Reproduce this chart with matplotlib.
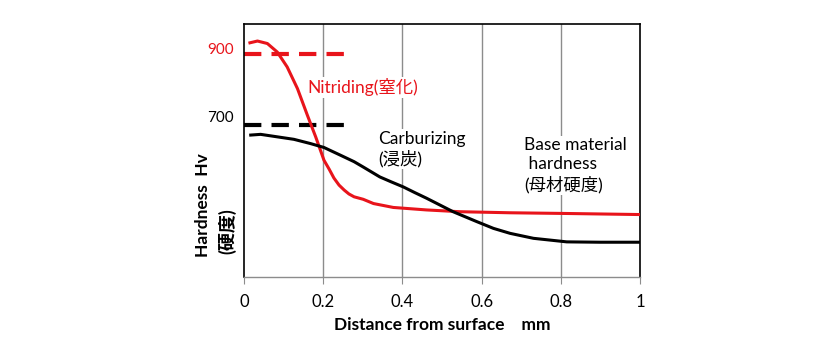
import matplotlib
matplotlib.use('Agg')
import matplotlib.pyplot as plt

plt.rcParams['font.family'] = ['Lato', 'Noto Sans CJK JP', 'DejaVu Sans']
plt.rcParams['lines.scale_dashes'] = False

# distance from surface (mm) and hardness (Hv)
nitriding_x = [0.015, 0.034, 0.059, 0.084, 0.109, 0.135, 0.160, 0.181, 0.202, 0.215,
               0.227, 0.240, 0.253, 0.265, 0.278, 0.301, 0.327, 0.377, 0.461, 0.545,
               0.672, 0.815, 1.0]
nitriding_hv = [932, 937, 930, 906, 864, 803, 728, 667, 601, 576,
                551, 531, 517, 506, 498, 491, 479, 468, 461, 456,
                453, 451, 448]

carburizing_x = [0.017, 0.042, 0.084, 0.126, 0.168, 0.202, 0.244, 0.278, 0.301, 0.322,
                 0.343, 0.372, 0.402, 0.431, 0.461, 0.528, 0.588, 0.630, 0.672, 0.731,
                 0.815, 0.899, 1.0]
carburizing_hv = [672, 674, 667, 660, 648, 637, 615, 597, 582, 568,
                  554, 540, 526, 510, 494, 456, 428, 409, 395, 381,
                  371, 370, 370]

nitriding_level = 900
carburizing_level = 700
level_x = [0, 0.255]

x_ticks = [0, 0.2, 0.4, 0.6, 0.8, 1]
x_tick_labels = ['0', '0.2', '0.4', '0.6', '0.8', '1']

red = '#e8141b'

fig = plt.figure(figsize=(8.38, 3.55), dpi=100)
ax = fig.add_axes([244 / 838, 1 - 277 / 355, 396 / 838, 253 / 355])

ax.set_xlim(0, 1)
ax.set_ylim(272, 985)

for gx in [0.2, 0.4, 0.6, 0.8]:
    ax.axvline(gx, color='#8c8c8c', linewidth=1, zorder=0.5)

ax.plot(level_x, [nitriding_level] * 2, color=red, linewidth=3, dashes=(12.5, 7.3),
        dash_capstyle='butt', zorder=2)
ax.plot(level_x, [carburizing_level] * 2, color='black', linewidth=3, dashes=(12.5, 7.3),
        dash_capstyle='butt', zorder=2)

ax.plot(nitriding_x, nitriding_hv, color=red, linewidth=2.2, zorder=3,
        solid_joinstyle='round')
ax.plot(carburizing_x, carburizing_hv, color='black', linewidth=2.2, zorder=3,
        solid_joinstyle='round')

ax.text(-0.025, 911, '900', color=red, fontsize=11, ha='right', va='center')
ax.text(-0.025, 720, '700', color='black', fontsize=11, ha='right', va='center')

box = dict(facecolor='white', edgecolor='none', pad=1)
ax.text(0.159, 807, 'Nitriding(窒化)', color=red, fontsize=12.5, ha='left', va='center',
        bbox=box, zorder=1.5)
ax.text(0.338, 632, 'Carburizing\n(浸炭)', color='black', fontsize=12.5, ha='left',
        va='center', linespacing=1.25, bbox=box, zorder=1.5)
ax.text(0.707, 587, 'Base material\n hardness\n(母材硬度)', color='black', fontsize=12.5,
        ha='left', va='center', linespacing=1.25, bbox=box, zorder=1.5)

ax.set_xticks(x_ticks)
ax.set_xticklabels(x_tick_labels, fontsize=12)
ax.set_yticks([])
ax.tick_params(axis='x', direction='out', length=5, color='#8c8c8c', pad=7)

for side in ['left', 'top', 'right']:
    ax.spines[side].set_color('black')
    ax.spines[side].set_linewidth(1.2)
ax.spines['bottom'].set_color('#8c8c8c')
ax.spines['bottom'].set_linewidth(1)

ax.set_xlabel('Distance from surface    mm', fontsize=12.5, fontweight='bold', labelpad=5)

fig.text(203 / 838, 1 - 257 / 355, 'Hardness  Hv', rotation=90, fontsize=12.5,
         fontweight='bold', ha='center', va='bottom')
fig.text(227 / 838, 1 - 254 / 355, '(硬度)', rotation=90, fontsize=13,
         fontweight='bold', ha='center', va='bottom')

fig.savefig('out.png', dpi=100)
